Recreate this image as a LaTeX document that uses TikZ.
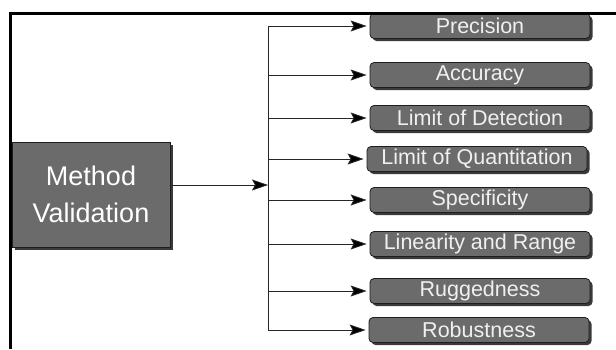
\documentclass[tikz,border=0pt]{standalone}
\usepackage{fontspec}
\setmainfont{Liberation Sans}
\usetikzlibrary{arrows.meta,shadows}
\definecolor{boxfill}{HTML}{6B6B6B}
\definecolor{boxedge}{HTML}{1E1E1E}
\definecolor{shadowc}{HTML}{3A3A3A}
\begin{document}
\begin{tikzpicture}[x=1pt,y=-1pt,
  mainbox/.style={draw=boxedge,line width=1pt,fill=boxfill,text=white,
    minimum width=158pt,minimum height=105pt,inner sep=0pt,align=center,
    font=\fontsize{27}{37}\selectfont,
    drop shadow={shadow xshift=3pt,shadow yshift=-3pt,fill=shadowc,opacity=1}},
  itembox/.style={draw=boxedge,line width=0.8pt,fill=boxfill,text=white!94!black,
    rounded corners=4pt,minimum width=220pt,minimum height=25pt,inner sep=0pt,
    font=\fontsize{21.5}{21.5}\selectfont,
    drop shadow={shadow xshift=2.5pt,shadow yshift=-2.5pt,fill=shadowc,opacity=1}},
  link/.style={draw=black!85,line width=0.8pt},
  tip/.style={-{Stealth[length=16pt,width=11pt,inset=3pt,fill=black]}},
  arr/.style={link,tip,shorten >=3pt}]
\useasboundingbox (0,0) rectangle (616,349);
% main node
\node[mainbox] (mv) at (91,194.5) {Method\\Validation};
% items
\node[itembox] (p1) at (480,26)  {Precision};
\node[itembox] (p2) at (480,75)  {Accuracy};
\node[itembox] (p3) at (480,118) {Limit of Detection};
\node[itembox] (p4) at (477,159) {Limit of Quantitation};
\node[itembox] (p5) at (480,200) {Specificity};
\node[itembox] (p6) at (480,244) {Linearity and Range};
\node[itembox] (p7) at (480,291) {Ruggedness};
\node[itembox] (p8) at (479,330) {Robustness};
% trunk
\coordinate (jn) at (268,185);
\coordinate (ttop) at (268,26);
\coordinate (tbot) at (268,330);
\draw[link] (ttop) -- (tbot);
\draw[link,tip] (mv.east |- jn) -- (jn);
\foreach \i in {1,...,8}{
  \draw[arr] (ttop |- p\i.west) -- (p\i.west);
}
% frame
\draw[line width=2.2pt,black] (616,13.5) -- (10.5,13.5) -- (10.5,349);
\end{tikzpicture}
\end{document}
